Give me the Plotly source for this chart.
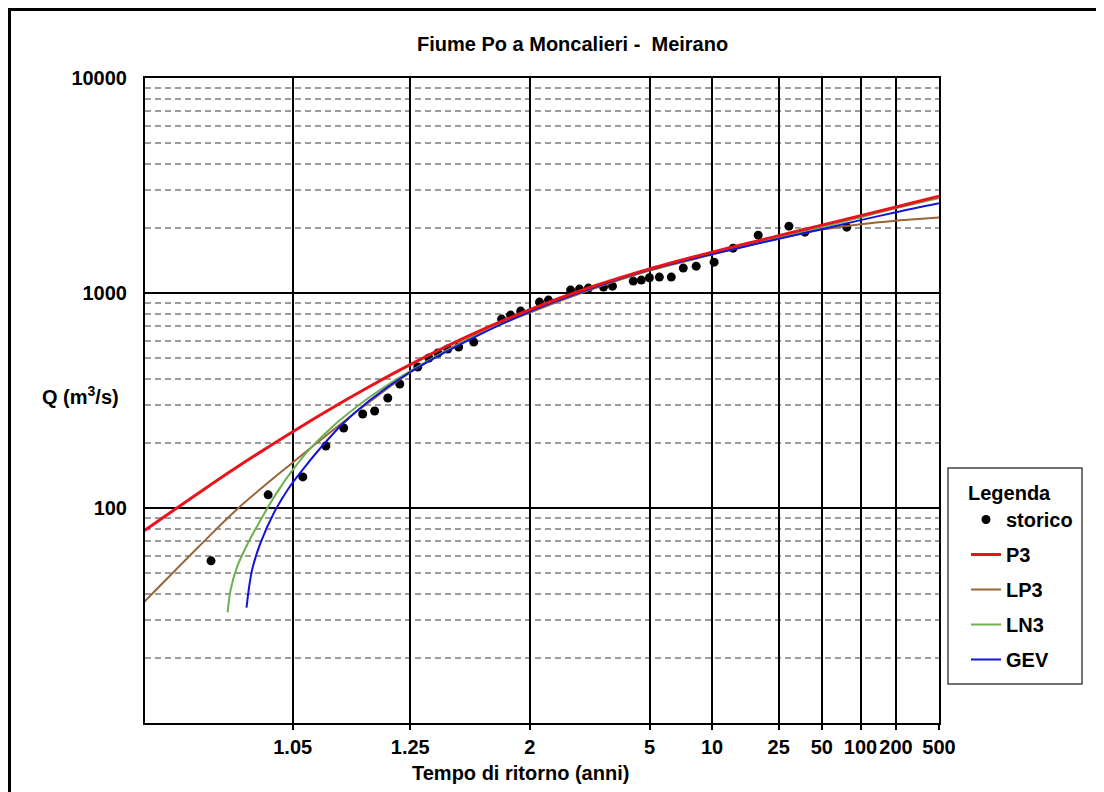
import plotly.graph_objects as go
from statistics import NormalDist

# ---------------- data ----------------
storico_T = [1.0126, 1.0339, 1.0583, 1.0818, 1.1051, 1.1361, 1.1593, 1.1887, 1.2195,
             1.2742, 1.3134, 1.3491, 1.392, 1.4455, 1.530, 1.7274, 1.8047, 1.9020,
             2.1146, 2.2326, 2.5813, 2.751, 2.939, 3.309, 3.564, 4.281, 4.619, 4.995,
             5.519, 6.254, 7.128, 8.264, 10.26, 13.09, 18.48, 29.24, 37.7, 77.5]
storico_Q = [56.8, 115.1, 139.5, 194.3, 235.6, 273.7, 282.6, 324.8, 377.3,
             452.5, 498.3, 525.7, 548.7, 560.6, 591.3, 756.4, 789.5, 824.0,
             907.1, 926.7, 1031.6, 1042.8, 1054, 1065, 1076.4, 1135.8, 1148, 1177,
             1186, 1186, 1305.6, 1333.5, 1391.8, 1616.9, 1857.8, 2046, 1918.7, 2024]

P3_T = [1.003, 1.01, 1.02, 1.05, 1.1, 1.15, 1.25, 1.5, 2, 3, 5, 10, 25, 50, 100, 200, 500]
P3_Q = [75.6, 117.5, 154.7, 226.2, 306.9, 368.6, 464.4, 631.3, 837.4, 1066, 1295, 1550,
        1848, 2068, 2289, 2512, 2820]

LP3_T = [1.003, 1.01, 1.02, 1.05, 1.1, 1.15, 1.25, 1.5, 2, 3, 5, 10, 25, 50, 100, 200, 500]
LP3_Q = [34.6, 66.0, 98.5, 162.9, 244.6, 312.9, 426.7, 614.1, 810.8, 1037, 1271, 1508,
         1789, 1971, 2090, 2170, 2245]

LN3_T = [1.01702, 1.01795, 1.02011, 1.0243, 1.03068, 1.0391, 1.05, 1.0652, 1.0913, 1.1,
         1.15, 1.25, 1.5, 2, 3, 5, 10, 25, 50, 100, 200, 500]
LN3_Q = [32.7, 41.6, 53.2, 68.8, 90.4, 118.2, 150.3, 189.4, 241.5, 256.4,
         329.0, 433.6, 607.9, 820.4, 1048, 1290, 1532, 1819, 2024, 2253, 2480, 2761]

GEV_T = [1.02365, 1.026, 1.02987, 1.0371, 1.04696, 1.0591, 1.0754, 1.0913, 1.1, 1.15,
         1.25, 1.5, 2, 3, 5, 10, 25, 50, 100, 200, 500]
GEV_Q = [34.4, 51.6, 68.6, 94.6, 123.6, 153, 189.6, 222.6, 240, 317.9,
         429, 604, 819.6, 1048, 1284, 1516, 1789, 1981, 2182, 2376, 2617]

x_ticks_T = [1.05, 1.25, 2, 5, 10, 25, 50, 100, 200, 500]
x_tick_text = ["1.05", "1.25", "2", "5", "10", "25", "50", "100", "200", "500"]
y_ticks = [100, 1000, 10000]
y_tick_text = ["100", "1000", "10000"]

title_text = "Fiume Po a Moncalieri -  Meirano"
x_title = "Tempo di ritorno (anni)"
y_title = "Q (m<sup>3</sup>/s)"

# ---------------- helpers ----------------
_nd = NormalDist()


def zval(T):
    """normal probability scale for return period T"""
    return _nd.inv_cdf(1.0 - 1.0 / T)


def zs(Ts):
    return [zval(t) for t in Ts]


F = "Liberation Sans, Arial, Helvetica, sans-serif"
FS = 20
OFF = 8  # page body margin
W, H = 1104, 792
ML, MT, PW, PH = 137, 70, 794, 645
MR, MB = W - ML - PW, H - MT - PH


def px(xp):
    return (xp - OFF - ML) / PW


def py(yp):
    return (H - MB - (yp - OFF)) / PH


bold = dict(family=F, size=FS, color="black", weight="bold")

fig = go.Figure()

fig.add_trace(go.Scatter(
    x=zs(storico_T), y=storico_Q, mode="markers", name="storico",
    marker=dict(color="black", size=9), legendgroup="g0", legendrank=1))

curve_specs = [
    ("LP3", LP3_T, LP3_Q, "#9a6434", 2, 3),
    ("LN3", LN3_T, LN3_Q, "#6db050", 2, 4),
    ("GEV", GEV_T, GEV_Q, "#1414d8", 2, 5),
    ("P3", P3_T, P3_Q, "#e8141c", 3, 2),
]
for name, Ts, Qs, col, w, rank in curve_specs:
    fig.add_trace(go.Scatter(
        x=zs(Ts), y=Qs, mode="lines", name=name,
        line=dict(color=col, width=w, shape="spline", smoothing=1.0),
        legendgroup="g" + name, legendrank=rank))

minor_vals = [m * 10 ** k for k in range(1, 4) for m in range(2, 10)]

fig.update_layout(
    width=W, height=H,
    margin=dict(l=ML, r=MR, t=MT, b=MB),
    paper_bgcolor="white", plot_bgcolor="white",
    font=dict(family=F, color="black"),
    showlegend=True,
    xaxis=dict(
        range=[zval(1.0034), zval(500)],
        tickmode="array", tickvals=zs(x_ticks_T), ticktext=x_tick_text,
        showgrid=True, gridcolor="black", gridwidth=2,
        showline=True, linecolor="black", linewidth=2, mirror=True,
        ticks="outside", ticklen=5, tickwidth=2, tickcolor="black",
        tickfont=bold, zeroline=False,
    ),
    yaxis=dict(
        type="log", range=[1, 4],
        tickmode="array", tickvals=y_ticks, ticktext=y_tick_text,
        showgrid=True, gridcolor="black", gridwidth=2,
        showline=True, linecolor="black", linewidth=2, mirror=True,
        ticks="", ticklabelstandoff=12,
        tickfont=bold, zeroline=False,
        minor=dict(tickvals=minor_vals, showgrid=True, gridcolor="#9c9c9c",
                   gridwidth=2, griddash="6px,4px", ticks=""),
    ),
    legend=dict(
        x=px(966), y=py(474), xanchor="left", yanchor="top",
        bgcolor="rgba(0,0,0,0)", borderwidth=0,
        font=bold,
        title=dict(text="Legenda", font=bold),
        tracegroupgap=6,
    ),
    shapes=[
        dict(type="rect", xref="paper", yref="paper",
             x0=px(9.5), y0=py(820), x1=px(1130), y1=py(9.5),
             line=dict(color="black", width=3), fillcolor="rgba(0,0,0,0)", layer="above"),
        dict(type="rect", xref="paper", yref="paper",
             x0=px(948), y0=py(684), x1=px(1082), y1=py(468),
             line=dict(color="#444444", width=1.5), fillcolor="rgba(0,0,0,0)", layer="above"),
    ],
    annotations=[
        dict(text="<b>" + title_text + "</b>", xref="paper", yref="paper",
             x=px(572), y=py(44), xanchor="center", yanchor="middle", showarrow=False,
             font=dict(family=F, size=FS, color="black")),
        dict(text="<b>" + y_title + "</b>", xref="paper", yref="paper",
             x=px(80), y=py(395), xanchor="center", yanchor="middle", showarrow=False,
             font=dict(family=F, size=FS, color="black")),
        dict(text="<b>" + x_title + "</b>", xref="paper", yref="paper",
             x=px(520), y=py(773), xanchor="center", yanchor="middle", showarrow=False,
             font=dict(family=F, size=FS, color="black")),
    ],
)

fig.write_html("out.html")
